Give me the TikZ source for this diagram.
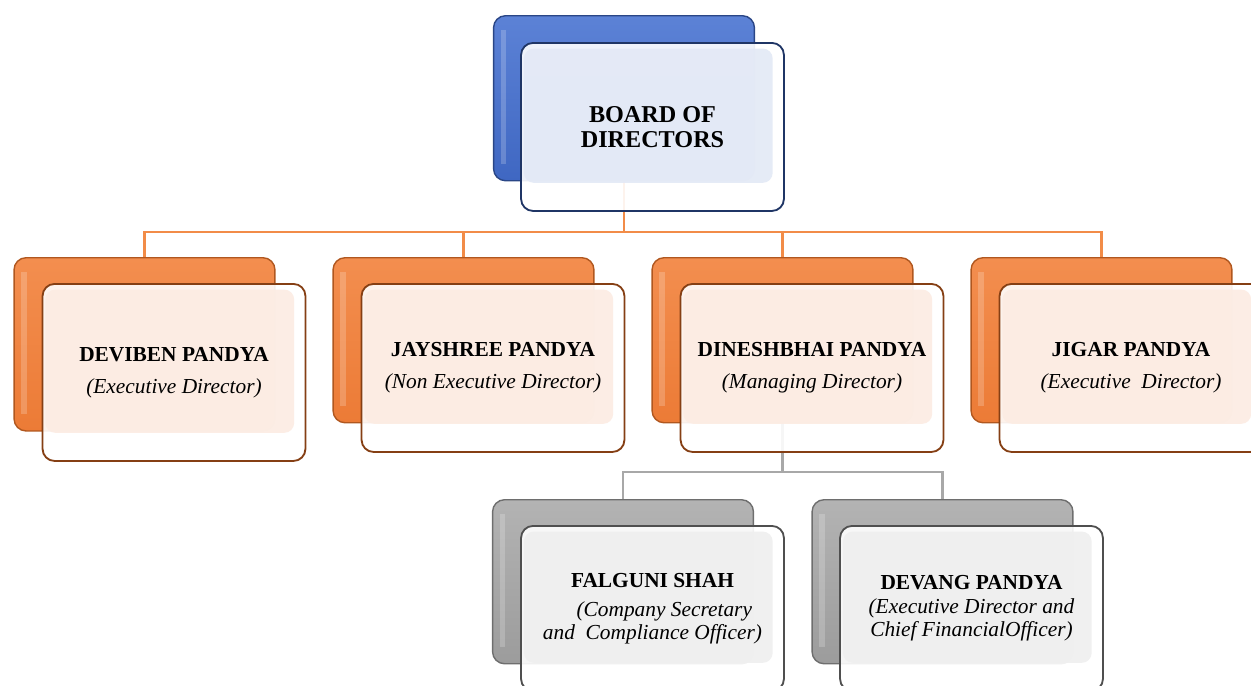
\documentclass[tikz,border=0pt]{standalone}
\usepackage{fontspec}
\setmainfont{Liberation Serif}
\usetikzlibrary{backgrounds}

\definecolor{blueback}{HTML}{3F67C2}
\definecolor{bluelight}{HTML}{5C82D6}
\definecolor{blueedge}{HTML}{2A4686}
\definecolor{bluefront}{HTML}{1F3565}
\definecolor{bluetint}{HTML}{E3E9F6}
\definecolor{orangeback}{HTML}{EC7B36}
\definecolor{orangelight}{HTML}{F38E4F}
\definecolor{orangeedge}{HTML}{B0571F}
\definecolor{orangefront}{HTML}{853F14}
\definecolor{orangetint}{HTML}{FCECE3}
\definecolor{grayback}{HTML}{9C9C9C}
\definecolor{graylight}{HTML}{B3B3B3}
\definecolor{grayedge}{HTML}{6E6E6E}
\definecolor{grayfront}{HTML}{4F4F4F}
\definecolor{graytint}{HTML}{EFEFEF}
\definecolor{orangeconn}{HTML}{F28C48}
\definecolor{grayconn}{HTML}{A8A8A8}

\tikzset{
  backbox/.style={draw=#1edge, line width=1pt, rounded corners=0.3cm, top color=#1light, bottom color=#1back,
    minimum width=6.52cm, anchor=north, inner sep=0pt,
    path picture={\fill[white, opacity=0.2, sharp corners] ([xshift=5pt,yshift=-10pt]path picture bounding box.north west) rectangle ([xshift=9pt,yshift=12pt]path picture bounding box.south west);}},
  frontbox/.style={draw=#1front, line width=1.3pt, rounded corners=0.3cm, fill=white, fill opacity=0.9, text opacity=1,
    minimum width=6.57cm, anchor=north, align=center, inner sep=0pt, font=\fontsize{15.2}{16.6}\selectfont,
    path picture={\fill[#1tint, rounded corners=0.25cm] ([xshift=2pt,yshift=-4pt]path picture bounding box.north west) rectangle ([xshift=-8pt,yshift=20pt]path picture bounding box.south east);}},
  orangeline/.style={draw=orangeconn, line width=2pt},
  grayline/.style={draw=grayconn, line width=2pt}
}

\begin{document}
\begin{tikzpicture}[x=0.025cm, y=-0.025cm]
\useasboundingbox (0,0) rectangle (1251,685);

\node[backbox=blue, minimum height=4.125cm] (boardback) at (624,15) {};
\node[frontbox=blue, minimum height=4.2cm, font=\fontsize{17.2}{17.8}\selectfont\bfseries] (board) at (652.5,42) {BOARD OF\\DIRECTORS};

\foreach[count=\i] \x/\hb/\hf/\nm/\rl in {
    144.5/4.33/4.425/{DEVIBEN PANDYA}/{(Executive Director)},
    463.5/4.125/4.2/{JAYSHREE PANDYA}/{(Non Executive Director)},
    782.5/4.125/4.2/{DINESHBHAI PANDYA}/{(Managing Director)},
    1101.5/4.125/4.2/{JIGAR PANDYA}/{(Executive\ \ Director)}}
{
    \node[backbox=orange, minimum height=\hb cm] (b\i) at (\x,257) {};
    \node[frontbox=orange, minimum height=\hf cm] (d\i) at (\x+29.5,283) {\textbf{\nm}\\[6.2pt]\textit{\rl}};
}

\node[backbox=gray, minimum height=4.1cm] (g1) at (623,499) {};
\node[frontbox=gray, minimum height=4.125cm] (falguni) at (652.5,525) {\textbf{FALGUNI SHAH}\\[4pt]\textit{\hspace*{1.1em}(Company Secretary}\\\textit{and\ \ Compliance Officer)}};
\node[backbox=gray, minimum height=4.1cm] (g2) at (942.5,499) {};
\node[frontbox=gray, minimum height=4.125cm] (devang) at (971.5,525) {\textbf{DEVANG PANDYA}\\\textit{(Executive Director and}\\\textit{Chief FinancialOfficer)}};

\begin{scope}[on background layer]
    \coordinate (obar) at (624,232);
    \draw[orangeline] (boardback.south) -- (obar);
    \foreach \i in {1,...,4}
        \draw[orangeline] (obar) -| (b\i.north);
    \coordinate (gbar) at (782.5,472);
    \draw[grayline] (b3.south) -- (gbar);
    \foreach \i in {1,2}
        \draw[grayline] (gbar) -| (g\i.north);
\end{scope}

\end{tikzpicture}
\end{document}
